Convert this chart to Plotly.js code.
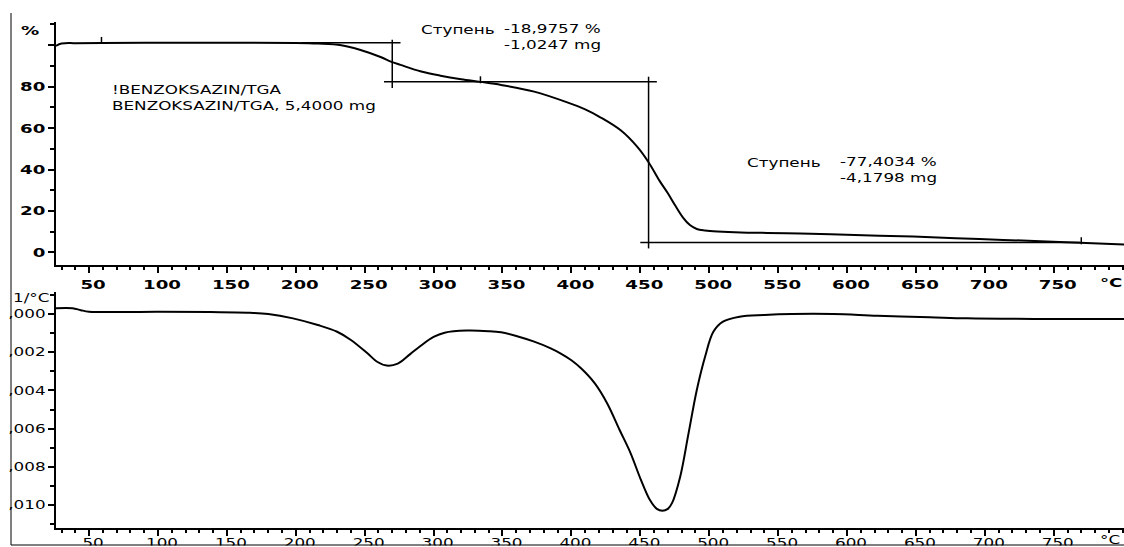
<!DOCTYPE html>
<html>
<head>
<meta charset="utf-8">
<script src="https://cdn.plot.ly/plotly-3.0.1.min.js"></script>
<style>
  html, body { margin: 0; padding: 0; background: #ffffff; }
  #chart { width: 1124px; height: 547px; }
</style>
</head>
<body>
<div id="chart"></div>
<script>
// ---- TGA curve (mass %, vs temperature °C) ----
const tgaTemp = [26, 30, 40, 59, 100, 150, 200, 216, 233, 247, 262, 269, 276, 291, 305, 320, 334, 349, 373, 397, 410, 421, 436, 448, 456, 464, 470, 475, 481, 486, 491, 497, 506, 523, 542, 566, 588, 648, 696, 745, 769, 801];
const tgaMass = [99.7, 100.8, 101.0, 101.1, 101.2, 101.2, 101.1, 100.8, 100.0, 97.7, 94.2, 92.1, 90.5, 87.3, 85.3, 83.6, 82.3, 80.8, 77.6, 72.4, 69.0, 65.2, 58.8, 50.8, 43.5, 34.5, 28.5, 23.0, 16.8, 13.2, 11.3, 10.6, 10.1, 9.6, 9.4, 9.1, 8.7, 7.6, 6.4, 5.3, 4.6, 3.8];

// ---- DTG curve (1/°C) ----
const dtgTemp = [26, 38, 44, 50, 100, 138, 165, 180, 198, 216, 230, 240, 252, 259, 266, 274, 283, 290, 300, 308, 324, 340, 349, 360, 373, 385, 392, 400, 407, 417, 426, 435, 443, 450, 457, 462, 466, 470, 473, 479, 485, 491, 497, 503, 510, 522, 540, 560, 590, 622, 660, 687, 740, 801];
const dtgRate = [0.0003, 0.0003, 0.0002, 0.00012, 0.00012, 0.0001, 0.00007, 0.0, -0.00023, -0.00058, -0.00093, -0.00136, -0.00206, -0.0025, -0.0027, -0.0026, -0.0021, -0.0017, -0.0012, -0.00098, -0.00087, -0.0009, -0.00096, -0.00115, -0.00145, -0.0018, -0.00206, -0.00242, -0.00284, -0.00363, -0.00468, -0.00607, -0.00729, -0.0086, -0.00974, -0.0102, -0.0103, -0.0102, -0.0099, -0.0085, -0.00625, -0.00398, -0.00224, -0.00093, -0.0004, -0.00014, -0.00005, 0.0, 0.0, -0.00009, -0.00017, -0.00023, -0.00026, -0.00026];

// ---- Step evaluation lines ----
const step1TopX = [204, 276];  const step1TopY = [101.2, 101.2];
const step1VertX = [270, 270]; const step1VertY = [79.3, 102.6];
const step2TopX = [264, 462];  const step2TopY = [82.4, 82.4];
const step2VertX = [456, 456]; const step2VertY = [1.9, 84.8];
const step2BotX = [450, 769];  const step2BotY = [4.8, 4.8];
const limitMarkX = [59, 334, 770];
const limitMarkY = [102.3, 83.3, 5.6];

// ---- Tick labels ----
const xTickVals = [50, 100, 150, 200, 250, 300, 350, 400, 450, 500, 550, 600, 650, 700, 750];
const xTickText = ['50', '100', '150', '200', '250', '300', '350', '400', '450', '500', '550', '600', '650', '700', '750'];
const yTopTickVals = [0, 20, 40, 60, 80, 100];
const yTopTickText = ['0', '20', '40', '60', '80', ''];
const yBotTickVals = [0, -0.002, -0.004, -0.006, -0.008, -0.010];
const yBotTickText = [',000', ',002', ',004', ',006', ',008', ',010'];

// ---- Texts ----
const sampleText = '!BENZOKSAZIN/TGA<br>BENZOKSAZIN/TGA, 5,4000 mg';
const step1Label = 'Ступень';
const step1Values = '-18,9757 %<br>-1,0247 mg';
const step2Label = 'Ступень';
const step2Values = '-77,4034 %<br>-4,1798 mg';

const W = 1124, H = 547;
const px = v => v / W;
const py = v => 1 - v / H;
const FONT = 'DejaVu Sans';

function seg(x, y, xa, ya) {
  return { x: x, y: y, xaxis: xa, yaxis: ya, type: 'scatter', mode: 'lines',
           line: { color: '#000', width: 1.5 }, hoverinfo: 'skip', showlegend: false };
}

const traces = [
  { x: tgaTemp, y: tgaMass, type: 'scatter', mode: 'lines', xaxis: 'x', yaxis: 'y',
    line: { color: '#000', width: 2, shape: 'spline', smoothing: 1 }, showlegend: false },
  seg(step1TopX, step1TopY, 'x', 'y'),
  seg(step1VertX, step1VertY, 'x', 'y'),
  seg(step2TopX, step2TopY, 'x', 'y'),
  seg(step2VertX, step2VertY, 'x', 'y'),
  seg(step2BotX, step2BotY, 'x', 'y'),
  { x: limitMarkX, y: limitMarkY, type: 'scatter', mode: 'markers', xaxis: 'x', yaxis: 'y',
    marker: { symbol: 'line-ns-open', size: 5, color: '#000', line: { color: '#000', width: 1.5 } }, showlegend: false },
  { x: dtgTemp, y: dtgRate, type: 'scatter', mode: 'lines', xaxis: 'x2', yaxis: 'y2',
    line: { color: '#000', width: 2, shape: 'spline', smoothing: 1 }, showlegend: false }
];

const xCommon = {
  range: [26, 801], showgrid: false, zeroline: false, showline: true, linecolor: '#000', linewidth: 2,
  ticks: 'outside', ticklen: 6, tickwidth: 2, tickcolor: '#000',
  tickvals: xTickVals, ticktext: xTickText, ticklabelshift: 4,
  minor: { dtick: 10, tick0: 0, ticks: 'outside', ticklen: 3, tickwidth: 2, tickcolor: '#000', showgrid: false },
  fixedrange: true
};

const layout = {
  width: W, height: H,
  margin: { l: 0, r: 0, t: 0, b: 0 },
  paper_bgcolor: '#fff', plot_bgcolor: 'rgba(0,0,0,0)',
  showlegend: false,
  font: { family: FONT, color: '#000', size: 12 },
  xaxis: Object.assign({}, xCommon, {
    domain: [px(56), 1], anchor: 'y',
    tickfont: { family: FONT, size: 13, color: '#000', weight: 'bold' }
  }),
  yaxis: {
    domain: [py(265), py(22)], anchor: 'x', range: [-6.1, 111.2],
    showgrid: false, zeroline: false, showline: true, linecolor: '#000', linewidth: 2,
    ticks: 'outside', ticklen: 6, tickwidth: 2, tickcolor: '#000',
    tickvals: yTopTickVals, ticktext: yTopTickText,
    minor: { dtick: 10, tick0: 0, ticks: 'outside', ticklen: 4, tickwidth: 2, tickcolor: '#000', showgrid: false },
    tickfont: { family: FONT, size: 13, color: '#000', weight: 'bold' },
    fixedrange: true
  },
  xaxis2: Object.assign({}, xCommon, {
    domain: [px(56), 1], anchor: 'y2', ticklabelstandoff: -3,
    tickfont: { family: FONT, size: 12, color: '#000' }
  }),
  yaxis2: {
    domain: [py(528), py(292)], anchor: 'x2', range: [-0.0112, 0.00115],
    showgrid: false, zeroline: false, showline: true, linecolor: '#000', linewidth: 2,
    ticks: 'outside', ticklen: 6, tickwidth: 2, tickcolor: '#000',
    tickvals: yBotTickVals, ticktext: yBotTickText,
    minor: { dtick: 0.001, tick0: 0, ticks: 'outside', ticklen: 4, tickwidth: 2, tickcolor: '#000', showgrid: false },
    tickfont: { family: FONT, size: 12, color: '#000' },
    fixedrange: true
  },
  annotations: [
    { text: '%', x: px(19), y: py(30), xref: 'paper', yref: 'paper', xanchor: 'left', yanchor: 'middle', showarrow: false, align: 'left',
      font: { family: FONT, size: 13, weight: 'bold' } },
    { text: step1Label, x: px(419), y: py(30), xref: 'paper', yref: 'paper', xanchor: 'left', yanchor: 'middle', showarrow: false, align: 'left',
      font: { family: FONT, size: 12 } },
    { text: step1Values, x: px(502), y: py(37), xref: 'paper', yref: 'paper', xanchor: 'left', yanchor: 'middle', showarrow: false, align: 'left',
      font: { family: FONT, size: 12 } },
    { text: sampleText, x: px(110), y: py(98), xref: 'paper', yref: 'paper', xanchor: 'left', yanchor: 'middle', showarrow: false, align: 'left',
      font: { family: FONT, size: 12 } },
    { text: step2Label, x: px(745), y: py(163), xref: 'paper', yref: 'paper', xanchor: 'left', yanchor: 'middle', showarrow: false, align: 'left',
      font: { family: FONT, size: 12 } },
    { text: step2Values, x: px(838), y: py(170), xref: 'paper', yref: 'paper', xanchor: 'left', yanchor: 'middle', showarrow: false, align: 'left',
      font: { family: FONT, size: 12 } },
    { text: '°C', x: px(1098), y: py(282), xref: 'paper', yref: 'paper', xanchor: 'left', yanchor: 'middle', showarrow: false, align: 'left',
      font: { family: FONT, size: 13, weight: 'bold' } },
    { text: '1/°C', x: px(11), y: py(298), xref: 'paper', yref: 'paper', xanchor: 'left', yanchor: 'middle', showarrow: false, align: 'left',
      font: { family: FONT, size: 12 } },
    { text: '°C', x: px(1098), y: py(540), xref: 'paper', yref: 'paper', xanchor: 'left', yanchor: 'middle', showarrow: false, align: 'left',
      font: { family: FONT, size: 12 } }
  ],
  shapes: [
    { type: 'rect', xref: 'paper', yref: 'paper', x0: 0, x1: 1, y0: 0, y1: py(545.5), fillcolor: '#fff', line: { width: 0 }, layer: 'above' },
    { type: 'line', xref: 'paper', yref: 'paper', x0: px(11), x1: px(11), y0: py(13), y1: py(545), line: { color: '#000', width: 1 }, layer: 'above' },
    { type: 'line', xref: 'paper', yref: 'paper', x0: px(11), x1: 1, y0: py(545), y1: py(545), line: { color: '#000', width: 1 }, layer: 'above' }
  ]
};

// Reference text is horizontally wide; stretch rendered text horizontally (still real SVG text).
function stretchText(gd) {
  const S = 1.4;
  try {
    gd.querySelectorAll('.xtick text, .ytick text, .x2tick text, .y2tick text').forEach(t => {
      const bb = t.getBBox();
      const anc = t.getAttribute('text-anchor') || 'start';
      let ax = bb.x;
      if (anc === 'middle') ax = bb.x + bb.width / 2;
      else if (anc === 'end') ax = bb.x + bb.width;
      const tr = t.getAttribute('transform') || '';
      t.setAttribute('transform', tr + ' translate(' + ax + ',0) scale(' + S + ',1) translate(' + (-ax) + ',0)');
    });
    gd.querySelectorAll('.annotation-text').forEach(t => {
      const bb = t.getBBox();
      const ax = bb.x;
      const tr = t.getAttribute('transform') || '';
      t.setAttribute('transform', tr + ' translate(' + ax + ',0) scale(' + S + ',1) translate(' + (-ax) + ',0)');
    });
  } catch (e) { /* ignore */ }
}

Plotly.newPlot('chart', traces, layout, { staticPlot: true, displayModeBar: false }).then(stretchText);
</script>
</body>
</html>
